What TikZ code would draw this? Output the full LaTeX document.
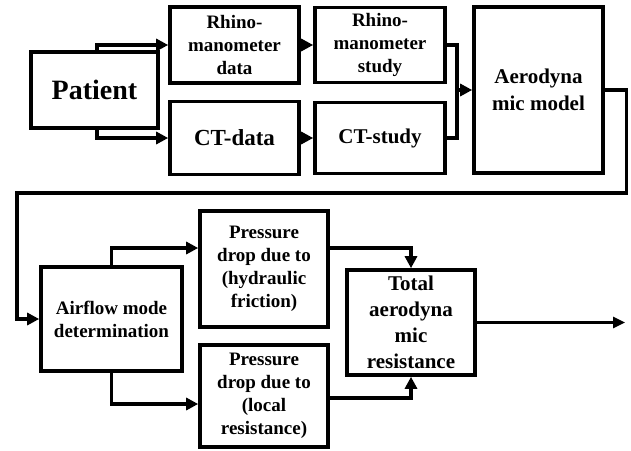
\documentclass[tikz,border=0pt]{standalone}
\usepackage{fontspec}
\setmainfont{Liberation Serif}
\usetikzlibrary{arrows.meta, positioning}

\begin{document}
\begin{tikzpicture}[x=1pt, y=-1pt, line join=miter]

  % Colors and styles
  \tikzset{
    box-main/.style={draw, line width=3.6pt, inner sep=0pt, align=center,
      font=\fontsize{19}{23}\selectfont\bfseries},
    flow-arrow/.style={-{Triangle[length=12pt, width=12pt]}, line width=3.3pt},
    flow-link/.style={line width=3.3pt},
    flow-out/.style={-{Triangle[length=12pt, width=11pt]}, line width=2.6pt},
  }

  \useasboundingbox (0,0) rectangle (631,450);

  % First row: data and studies
  \node[box-main, minimum width=127pt, minimum height=76pt,
        font=\fontsize{28}{32}\selectfont\bfseries] (patient) at (94.5,90) {Patient};
  \node[box-main, minimum width=129pt, minimum height=76pt] (rhinodata) at (234.5,45)
    {Rhino-\\manometer\\data};
  \node[box-main, minimum width=129pt, minimum height=73pt,
        font=\fontsize{23}{27}\selectfont\bfseries] (ctdata) at (234.5,138) {CT-data};
  \node[box-main, minimum width=130pt, minimum height=75pt] (rhinostudy) at (380,45)
    {Rhino-\\manometer\\study};
  \node[box-main, minimum width=130pt, minimum height=71pt,
        font=\fontsize{21}{25}\selectfont\bfseries] (ctstudy) at (380,138) {CT-study};
  \node[box-main, minimum width=129pt, minimum height=166pt,
        font=\fontsize{21}{27}\selectfont\bfseries] (model) at (538.5,90)
    {Aerodyna\\mic model};

  % Second row: resistance
  \node[box-main, minimum width=141pt, minimum height=104pt] (airflow) at (111.5,319)
    {Airflow mode\\determination};
  \node[box-main, minimum width=128pt, minimum height=116pt] (hydraulic) at (264,269)
    {Pressure\\drop due to\\(hydraulic\\friction)};
  \node[box-main, minimum width=128pt, minimum height=102pt] (local) at (264,396)
    {Pressure\\drop due to\\(local\\resistance)};
  \node[box-main, minimum width=128pt, minimum height=105pt,
        font=\fontsize{21}{26}\selectfont\bfseries] (total) at (411,322.5)
    {Total\\aerodyna\\mic\\resistance};

  % Helper points
  \coordinate (merge) at (457,90);
  \coordinate (loop) at (17,193);
  \coordinate (out) at (625,322.5);

  % Connectors
  \draw[flow-arrow] ([xshift=2.5pt]patient.north) |- (rhinodata.west);
  \draw[flow-arrow] ([xshift=2.5pt]patient.south) |- (ctdata.west);
  \draw[flow-arrow] (rhinodata) -- (rhinostudy);
  \draw[flow-arrow] (ctdata) -- (ctstudy);
  \draw[flow-link] (rhinostudy.east) -| (merge) |- (ctstudy.east);
  \draw[flow-arrow] (merge) -- (model.west);
  \draw[flow-arrow] (model.east) -- ++(22,0) |- (loop) |- (airflow.west);

  \draw[flow-arrow] (airflow.north) |- ([yshift=21pt]hydraulic.west);
  \draw[flow-arrow] (airflow.south) |- ([yshift=-8pt]local.west);
  \draw[flow-arrow] ([yshift=21pt]hydraulic.east) -| (total.north);
  \draw[flow-arrow] ([yshift=-2pt]local.east) -| (total.south);
  \draw[flow-out] (total.east) -- (out);

\end{tikzpicture}
\end{document}
